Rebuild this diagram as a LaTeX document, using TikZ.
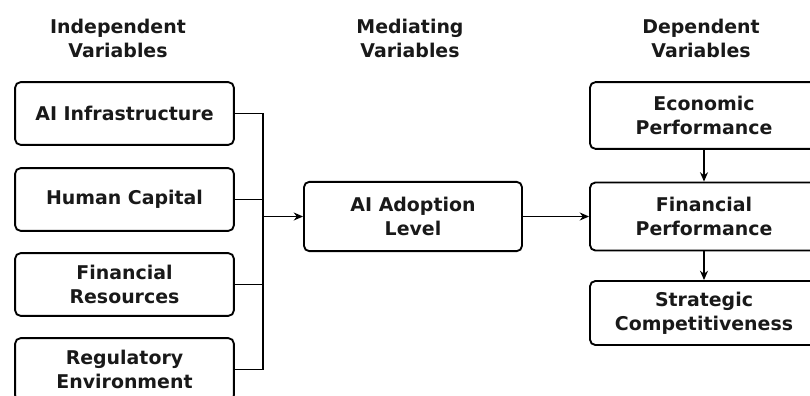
\documentclass[tikz,border=0pt]{standalone}
\usepackage{fontspec}
\setmainfont{DejaVu Sans}
\usetikzlibrary{arrows.meta}

\tikzset{every picture/.style={line width=0.75pt}}
\tikzset{
  varbox/.style={draw, rounded corners=4pt, line width=1.4pt, align=center, inner sep=0pt,
    text=black!90, font=\bfseries\fontsize{14.2}{17.8}\selectfont},
  leftbox/.style={varbox, minimum width=164pt, minimum height=47pt},
  rightbox/.style={varbox, minimum width=171pt},
  header/.style={align=center, inner sep=0pt, text=black!90, font=\bfseries\fontsize{14.2}{17.8}\selectfont},
  link/.style={line width=1.2pt},
  arr/.style={line width=1.2pt, -{Stealth[length=7pt,width=6pt]}}
}

\begin{document}
\begin{tikzpicture}[x=0.75pt,y=0.75pt,yscale=-1,xscale=1]
%set diagram size 810 x 396
\useasboundingbox (0,0) rectangle (810,396);
\clip (0,0) rectangle (810,396);
% Headers
\node (hdrind) at (118,38.5) [header] {Independent\\Variables};
\node (hdrmed) at (410,38.5) [header] {Mediating\\Variables};
\node (hdrdep) at (701,38.5) [header] {Dependent\\Variables};
% Independent variables
\node (infra) at (124.5,113.5) [leftbox] {AI Infrastructure};
\node (human) at (124.5,199.5) [leftbox] {Human Capital};
\node (finres) at (124.5,284.5) [leftbox] {Financial\\Resources};
\node (regul) at (124.5,369.5) [leftbox] {Regulatory\\Environment};
% Mediating variable
\node (adopt) at (413,216.5) [varbox, minimum width=163.5pt, minimum height=52pt] {AI Adoption\\Level};
% Dependent variables
\node (econ) at (704,115.5) [rightbox, minimum height=50pt] {Economic\\Performance};
\node (finperf) at (704,216.5) [rightbox, minimum height=51pt] {Financial\\Performance};
\node (strat) at (704,313) [rightbox, minimum height=48pt] {Strategic\\Competitiveness};
% Connectors
\coordinate (jn) at (263,216.5);
\draw [link] (infra.east) -- (infra.east -| jn) -- (regul.east -| jn) -- (regul.east);
\draw [link] (human.east) -- (human.east -| jn);
\draw [link] (finres.east) -- (finres.east -| jn);
\draw [arr] (jn) -- (adopt.west);
\draw [arr] (adopt.east) -- (finperf.west);
\draw [arr] (econ.south) -- (finperf.north);
\draw [arr] (finperf.south) -- (strat.north);
\end{tikzpicture}
\end{document}
